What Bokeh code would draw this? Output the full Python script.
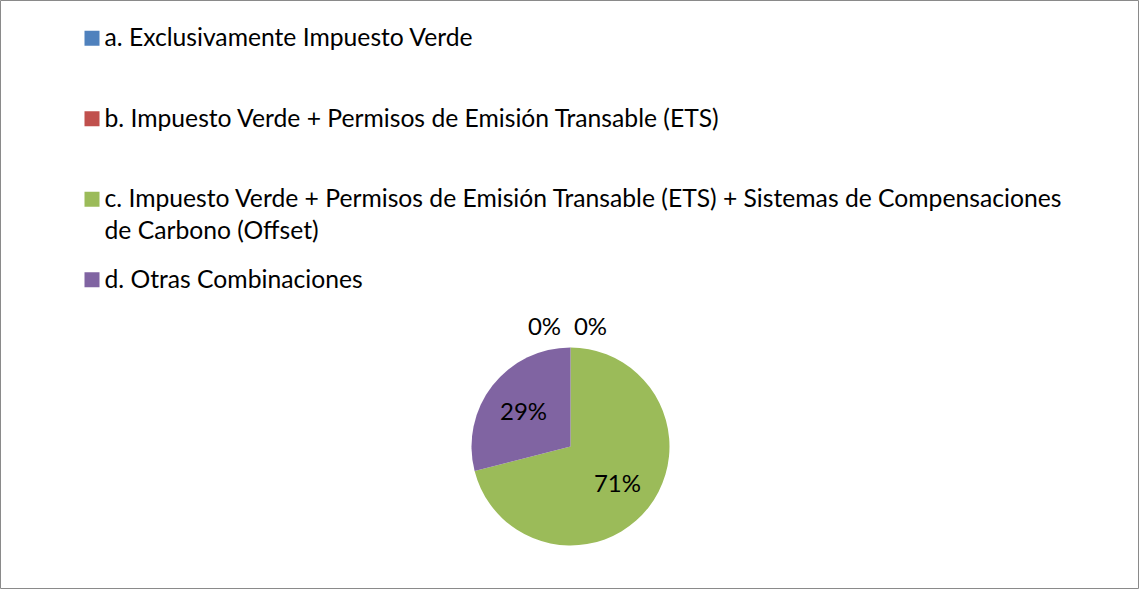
import math
from bokeh.plotting import figure
from bokeh.models import Range1d, ColumnDataSource
from bokeh.core.properties import value
from bokeh.embed import file_html
from bokeh.resources import INLINE

# ---- data ----
categories = [
    "a. Exclusivamente Impuesto Verde",
    "b. Impuesto Verde + Permisos de Emisión Transable (ETS)",
    "c. Impuesto Verde + Permisos de Emisión Transable (ETS) + Sistemas de Compensaciones\nde Carbono (Offset)",
    "d. Otras Combinaciones",
]
shares = [0, 0, 71, 29]
colors = ["#4F81BD", "#C0504D", "#9BBB59", "#8064A2"]

# ---- layout ----
W, H = 1139, 589
FONT = "Lato"
cx, cy_top, R = 570, 446, 99           # pie centre (from top) and radius, px
leg_x, leg_y0, leg_step, sq = 91.5, 37.8, 80.5, 15
line_h = 32
text_shift = -9.5                      # baseline correction, px

p = figure(width=W, height=H, output_backend="svg", toolbar_location=None,
           x_range=Range1d(0, W), y_range=Range1d(0, H), min_border=0)
p.axis.visible = False
p.grid.visible = False
p.outline_line_color = "#8a8a8a"
p.outline_line_width = 1
p.background_fill_color = "white"
p.border_fill_color = "white"

cy = H - cy_top
total = sum(shares)

# wedges (clockwise from 12 o'clock, like Excel)
ws = dict(start=[], end=[], color=[])
lab = dict(x=[], y=[], t=[])
cum = 0.0
zero_idx = 0
for v, c in zip(shares, colors):
    frac = v / total
    a0 = math.pi / 2 - 2 * math.pi * cum
    a1 = math.pi / 2 - 2 * math.pi * (cum + frac)
    mid = (a0 + a1) / 2
    if v > 0:
        ws["start"].append(a0)
        ws["end"].append(a1)
        ws["color"].append(c)
        lab["x"].append(cx + 0.6 * R * math.cos(mid))
        lab["y"].append(cy + 0.6 * R * math.sin(mid))
    else:
        spread = -26 if zero_idx == 0 else 20
        zero_idx += 1
        lab["x"].append(cx + (R + 22) * math.cos(mid) + spread)
        lab["y"].append(cy + (R + 22) * math.sin(mid))
    lab["t"].append(f"{round(100 * frac)}%")
    cum += frac

src = ColumnDataSource(dict(x=[cx] * len(ws["start"]), y=[cy] * len(ws["start"]), **ws))
p.wedge(x="x", y="y", radius=R, start_angle="start", end_angle="end",
        direction="clock", fill_color="color", line_color=None, source=src)

p.text(x="x", y="y", text="t", source=ColumnDataSource(lab),
       text_font=value(FONT), text_font_size="24px", text_color="#000000",
       text_align="center", text_baseline="middle")

# legend
sq_src = dict(x=[], y=[], color=[])
txt = dict(x=[], y=[], t=[])
for i, (name, c) in enumerate(zip(categories, colors)):
    yc = leg_y0 + i * leg_step
    sq_src["x"].append(leg_x)
    sq_src["y"].append(H - yc)
    sq_src["color"].append(c)
    for j, line in enumerate(name.split("\n")):
        txt["x"].append(leg_x + sq / 2 + 5)
        txt["y"].append(H - (yc + sq / 2 + 0.5 + j * line_h + text_shift))
        txt["t"].append(line)

p.rect(x="x", y="y", width=sq, height=sq, fill_color="color", line_color=None,
       source=ColumnDataSource(sq_src))
p.text(x="x", y="y", text="t", source=ColumnDataSource(txt),
       text_font=value(FONT), text_font_size="24.7px", text_color="#000000",
       text_align="left", text_baseline="alphabetic")

open("out.html", "w").write(file_html(p, INLINE))
